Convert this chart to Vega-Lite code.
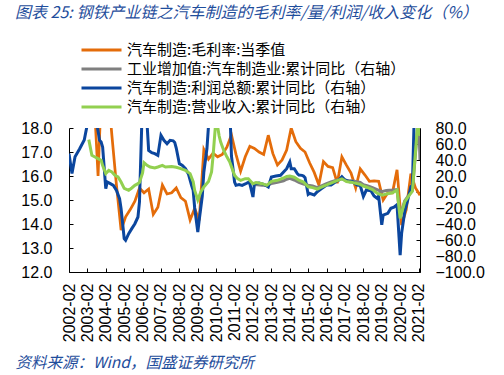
{
  "$schema": "https://vega.github.io/schema/vega-lite/v6.json",
  "width": 351,
  "height": 144,
  "autosize": {"type": "none"},
  "padding": {"left": 69, "top": 128, "right": 84, "bottom": 103},
  "background": "white",
  "title": {
    "text": "图表 25:  钢铁产业链之汽车制造的毛利率/量/利润/收入变化（%）",
    "anchor": "start",
    "frame": "group",
    "dx": -54,
    "offset": 20,
    "font": "Noto Sans CJK SC",
    "fontSize": 16,
    "fontStyle": "italic",
    "fontWeight": "normal",
    "color": "#1F4E9C"
  },
  "config": {
    "view": {"stroke": null},
    "axis": {"domainColor": "#000000", "tickColor": "#000000", "labelColor": "#000000", "grid": false, "domainWidth": 1, "tickWidth": 1},
    "axisRight": {"labelOverlap": false, "labelSeparation": -10},
    "axisLeft": {"labelOverlap": false}
  },
  "datasets": {
    "d": [
      {"date": "2002-03", "series": "汽车制造:毛利率:当季值", "value": 18.4},
      {"date": "2002-06", "series": "汽车制造:毛利率:当季值", "value": 19.5},
      {"date": "2002-09", "series": "汽车制造:毛利率:当季值", "value": 20.0},
      {"date": "2002-12", "series": "汽车制造:毛利率:当季值", "value": 20.5},
      {"date": "2003-03", "series": "汽车制造:毛利率:当季值", "value": 20.5},
      {"date": "2003-06", "series": "汽车制造:毛利率:当季值", "value": 19.8},
      {"date": "2003-09", "series": "汽车制造:毛利率:当季值", "value": 16.0},
      {"date": "2003-12", "series": "汽车制造:毛利率:当季值", "value": 21.0},
      {"date": "2004-03", "series": "汽车制造:毛利率:当季值", "value": 20.0},
      {"date": "2004-06", "series": "汽车制造:毛利率:当季值", "value": 17.7},
      {"date": "2004-09", "series": "汽车制造:毛利率:当季值", "value": 15.6},
      {"date": "2004-12", "series": "汽车制造:毛利率:当季值", "value": 13.75},
      {"date": "2005-03", "series": "汽车制造:毛利率:当季值", "value": 14.3},
      {"date": "2005-06", "series": "汽车制造:毛利率:当季值", "value": 14.6},
      {"date": "2005-09", "series": "汽车制造:毛利率:当季值", "value": 14.95},
      {"date": "2005-12", "series": "汽车制造:毛利率:当季值", "value": 15.5},
      {"date": "2006-03", "series": "汽车制造:毛利率:当季值", "value": 15.3},
      {"date": "2006-06", "series": "汽车制造:毛利率:当季值", "value": 15.46},
      {"date": "2006-09", "series": "汽车制造:毛利率:当季值", "value": 14.4},
      {"date": "2006-12", "series": "汽车制造:毛利率:当季值", "value": 14.7},
      {"date": "2007-03", "series": "汽车制造:毛利率:当季值", "value": 15.62},
      {"date": "2007-06", "series": "汽车制造:毛利率:当季值", "value": 15.25},
      {"date": "2007-09", "series": "汽车制造:毛利率:当季值", "value": 15.3},
      {"date": "2007-12", "series": "汽车制造:毛利率:当季值", "value": 15.5},
      {"date": "2008-03", "series": "汽车制造:毛利率:当季值", "value": 15.1},
      {"date": "2008-06", "series": "汽车制造:毛利率:当季值", "value": 14.95},
      {"date": "2008-09", "series": "汽车制造:毛利率:当季值", "value": 14.17},
      {"date": "2008-12", "series": "汽车制造:毛利率:当季值", "value": 14.65},
      {"date": "2009-03", "series": "汽车制造:毛利率:当季值", "value": 14.15},
      {"date": "2009-06", "series": "汽车制造:毛利率:当季值", "value": 17.1},
      {"date": "2009-09", "series": "汽车制造:毛利率:当季值", "value": 16.7},
      {"date": "2009-12", "series": "汽车制造:毛利率:当季值", "value": 16.95},
      {"date": "2010-03", "series": "汽车制造:毛利率:当季值", "value": 16.8},
      {"date": "2010-06", "series": "汽车制造:毛利率:当季值", "value": 16.9},
      {"date": "2010-09", "series": "汽车制造:毛利率:当季值", "value": 17.2},
      {"date": "2010-12", "series": "汽车制造:毛利率:当季值", "value": 17.72},
      {"date": "2011-03", "series": "汽车制造:毛利率:当季值", "value": 16.9},
      {"date": "2011-06", "series": "汽车制造:毛利率:当季值", "value": 16.2},
      {"date": "2011-09", "series": "汽车制造:毛利率:当季值", "value": 16.8},
      {"date": "2011-12", "series": "汽车制造:毛利率:当季值", "value": 17.24},
      {"date": "2012-03", "series": "汽车制造:毛利率:当季值", "value": 17.15},
      {"date": "2012-06", "series": "汽车制造:毛利率:当季值", "value": 17.0},
      {"date": "2012-09", "series": "汽车制造:毛利率:当季值", "value": 16.9},
      {"date": "2012-12", "series": "汽车制造:毛利率:当季值", "value": 17.7},
      {"date": "2013-03", "series": "汽车制造:毛利率:当季值", "value": 16.94},
      {"date": "2013-06", "series": "汽车制造:毛利率:当季值", "value": 16.46},
      {"date": "2013-09", "series": "汽车制造:毛利率:当季值", "value": 16.67},
      {"date": "2013-12", "series": "汽车制造:毛利率:当季值", "value": 17.08},
      {"date": "2014-03", "series": "汽车制造:毛利率:当季值", "value": 18.0},
      {"date": "2014-06", "series": "汽车制造:毛利率:当季值", "value": 17.43},
      {"date": "2014-09", "series": "汽车制造:毛利率:当季值", "value": 17.15},
      {"date": "2014-12", "series": "汽车制造:毛利率:当季值", "value": 17.0},
      {"date": "2015-03", "series": "汽车制造:毛利率:当季值", "value": 16.55},
      {"date": "2015-06", "series": "汽车制造:毛利率:当季值", "value": 16.15},
      {"date": "2015-09", "series": "汽车制造:毛利率:当季值", "value": 15.63},
      {"date": "2015-12", "series": "汽车制造:毛利率:当季值", "value": 16.6},
      {"date": "2016-03", "series": "汽车制造:毛利率:当季值", "value": 16.4},
      {"date": "2016-06", "series": "汽车制造:毛利率:当季值", "value": 16.35},
      {"date": "2016-09", "series": "汽车制造:毛利率:当季值", "value": 15.7},
      {"date": "2016-12", "series": "汽车制造:毛利率:当季值", "value": 16.8},
      {"date": "2017-03", "series": "汽车制造:毛利率:当季值", "value": 16.45},
      {"date": "2017-06", "series": "汽车制造:毛利率:当季值", "value": 16.12},
      {"date": "2017-09", "series": "汽车制造:毛利率:当季值", "value": 15.5},
      {"date": "2017-12", "series": "汽车制造:毛利率:当季值", "value": 16.3},
      {"date": "2018-03", "series": "汽车制造:毛利率:当季值", "value": 16.05},
      {"date": "2018-06", "series": "汽车制造:毛利率:当季值", "value": 15.78},
      {"date": "2018-09", "series": "汽车制造:毛利率:当季值", "value": 15.8},
      {"date": "2018-12", "series": "汽车制造:毛利率:当季值", "value": 15.78},
      {"date": "2019-03", "series": "汽车制造:毛利率:当季值", "value": 15.0},
      {"date": "2019-06", "series": "汽车制造:毛利率:当季值", "value": 15.3},
      {"date": "2019-09", "series": "汽车制造:毛利率:当季值", "value": 15.3},
      {"date": "2019-12", "series": "汽车制造:毛利率:当季值", "value": 16.26},
      {"date": "2020-03", "series": "汽车制造:毛利率:当季值", "value": 13.95},
      {"date": "2020-06", "series": "汽车制造:毛利率:当季值", "value": 14.6},
      {"date": "2020-09", "series": "汽车制造:毛利率:当季值", "value": 16.1},
      {"date": "2020-12", "series": "汽车制造:毛利率:当季值", "value": 15.5},
      {"date": "2021-03", "series": "汽车制造:毛利率:当季值", "value": 15.2},

      {"date": "2012-02", "series": "工业增加值:汽车制造业:累计同比（右轴）", "value": 9.5},
      {"date": "2012-05", "series": "工业增加值:汽车制造业:累计同比（右轴）", "value": 9},
      {"date": "2012-08", "series": "工业增加值:汽车制造业:累计同比（右轴）", "value": 8.5},
      {"date": "2012-11", "series": "工业增加值:汽车制造业:累计同比（右轴）", "value": 8.5},
      {"date": "2013-02", "series": "工业增加值:汽车制造业:累计同比（右轴）", "value": 10.5},
      {"date": "2013-06", "series": "工业增加值:汽车制造业:累计同比（右轴）", "value": 12},
      {"date": "2013-10", "series": "工业增加值:汽车制造业:累计同比（右轴）", "value": 14},
      {"date": "2013-12", "series": "工业增加值:汽车制造业:累计同比（右轴）", "value": 16},
      {"date": "2014-02", "series": "工业增加值:汽车制造业:累计同比（右轴）", "value": 17},
      {"date": "2014-05", "series": "工业增加值:汽车制造业:累计同比（右轴）", "value": 15},
      {"date": "2014-08", "series": "工业增加值:汽车制造业:累计同比（右轴）", "value": 12},
      {"date": "2014-11", "series": "工业增加值:汽车制造业:累计同比（右轴）", "value": 10},
      {"date": "2015-02", "series": "工业增加值:汽车制造业:累计同比（右轴）", "value": 8.5},
      {"date": "2015-05", "series": "工业增加值:汽车制造业:累计同比（右轴）", "value": 7.5},
      {"date": "2015-08", "series": "工业增加值:汽车制造业:累计同比（右轴）", "value": 5.5},
      {"date": "2015-10", "series": "工业增加值:汽车制造业:累计同比（右轴）", "value": 7},
      {"date": "2016-02", "series": "工业增加值:汽车制造业:累计同比（右轴）", "value": 10.5},
      {"date": "2016-05", "series": "工业增加值:汽车制造业:累计同比（右轴）", "value": 12.5},
      {"date": "2016-08", "series": "工业增加值:汽车制造业:累计同比（右轴）", "value": 14.5},
      {"date": "2016-12", "series": "工业增加值:汽车制造业:累计同比（右轴）", "value": 16.5},
      {"date": "2017-03", "series": "工业增加值:汽车制造业:累计同比（右轴）", "value": 14.5},
      {"date": "2017-06", "series": "工业增加值:汽车制造业:累计同比（右轴）", "value": 14},
      {"date": "2017-09", "series": "工业增加值:汽车制造业:累计同比（右轴）", "value": 13},
      {"date": "2017-12", "series": "工业增加值:汽车制造业:累计同比（右轴）", "value": 12},
      {"date": "2018-02", "series": "工业增加值:汽车制造业:累计同比（右轴）", "value": 9},
      {"date": "2018-05", "series": "工业增加值:汽车制造业:累计同比（右轴）", "value": 7.5},
      {"date": "2018-08", "series": "工业增加值:汽车制造业:累计同比（右轴）", "value": 5.5},
      {"date": "2018-11", "series": "工业增加值:汽车制造业:累计同比（右轴）", "value": 3},
      {"date": "2019-02", "series": "工业增加值:汽车制造业:累计同比（右轴）", "value": 0.5},
      {"date": "2019-05", "series": "工业增加值:汽车制造业:累计同比（右轴）", "value": 2},
      {"date": "2019-09", "series": "工业增加值:汽车制造业:累计同比（右轴）", "value": 2.5},
      {"date": "2019-12", "series": "工业增加值:汽车制造业:累计同比（右轴）", "value": 3},
      {"date": "2020-02", "series": "工业增加值:汽车制造业:累计同比（右轴）", "value": -32},
      {"date": "2020-03", "series": "工业增加值:汽车制造业:累计同比（右轴）", "value": -24},
      {"date": "2020-05", "series": "工业增加值:汽车制造业:累计同比（右轴）", "value": -11},
      {"date": "2020-08", "series": "工业增加值:汽车制造业:累计同比（右轴）", "value": -3},
      {"date": "2020-10", "series": "工业增加值:汽车制造业:累计同比（右轴）", "value": 2},
      {"date": "2021-02", "series": "工业增加值:汽车制造业:累计同比（右轴）", "value": 95},
      {"date": "2021-03", "series": "工业增加值:汽车制造业:累计同比（右轴）", "value": 40},

      {"date": "2002-02", "series": "汽车制造:利润总额:累计同比（右轴）", "value": 48},
      {"date": "2002-04", "series": "汽车制造:利润总额:累计同比（右轴）", "value": 23},
      {"date": "2002-06", "series": "汽车制造:利润总额:累计同比（右轴）", "value": 44},
      {"date": "2002-09", "series": "汽车制造:利润总额:累计同比（右轴）", "value": 54},
      {"date": "2002-12", "series": "汽车制造:利润总额:累计同比（右轴）", "value": 65},
      {"date": "2003-02", "series": "汽车制造:利润总额:累计同比（右轴）", "value": 85},
      {"date": "2003-04", "series": "汽车制造:利润总额:累计同比（右轴）", "value": 110},
      {"date": "2003-06", "series": "汽车制造:利润总额:累计同比（右轴）", "value": 100},
      {"date": "2003-08", "series": "汽车制造:利润总额:累计同比（右轴）", "value": 88},
      {"date": "2003-10", "series": "汽车制造:利润总额:累计同比（右轴）", "value": 64.6},
      {"date": "2003-11", "series": "汽车制造:利润总额:累计同比（右轴）", "value": 62.5},
      {"date": "2003-12", "series": "汽车制造:利润总额:累计同比（右轴）", "value": 56},
      {"date": "2004-02", "series": "汽车制造:利润总额:累计同比（右轴）", "value": 4.2},
      {"date": "2004-03", "series": "汽车制造:利润总额:累计同比（右轴）", "value": 12.5},
      {"date": "2004-05", "series": "汽车制造:利润总额:累计同比（右轴）", "value": 10.4},
      {"date": "2004-07", "series": "汽车制造:利润总额:累计同比（右轴）", "value": 8.3},
      {"date": "2004-09", "series": "汽车制造:利润总额:累计同比（右轴）", "value": 2},
      {"date": "2004-11", "series": "汽车制造:利润总额:累计同比（右轴）", "value": -8.3},
      {"date": "2004-12", "series": "汽车制造:利润总额:累计同比（右轴）", "value": -20.8},
      {"date": "2005-02", "series": "汽车制造:利润总额:累计同比（右轴）", "value": -58.3},
      {"date": "2005-03", "series": "汽车制造:利润总额:累计同比（右轴）", "value": -60.4},
      {"date": "2005-05", "series": "汽车制造:利润总额:累计同比（右轴）", "value": -52},
      {"date": "2005-07", "series": "汽车制造:利润总额:累计同比（右轴）", "value": -45.8},
      {"date": "2005-09", "series": "汽车制造:利润总额:累计同比（右轴）", "value": -39.6},
      {"date": "2005-11", "series": "汽车制造:利润总额:累计同比（右轴）", "value": -31.25},
      {"date": "2005-12", "series": "汽车制造:利润总额:累计同比（右轴）", "value": -12.5},
      {"date": "2006-02", "series": "汽车制造:利润总额:累计同比（右轴）", "value": 120},
      {"date": "2006-03", "series": "汽车制造:利润总额:累计同比（右轴）", "value": 110},
      {"date": "2006-05", "series": "汽车制造:利润总额:累计同比（右轴）", "value": 85},
      {"date": "2006-06", "series": "汽车制造:利润总额:累计同比（右轴）", "value": 52},
      {"date": "2006-08", "series": "汽车制造:利润总额:累计同比（右轴）", "value": 49.2},
      {"date": "2006-10", "series": "汽车制造:利润总额:累计同比（右轴）", "value": 48},
      {"date": "2006-12", "series": "汽车制造:利润总额:累计同比（右轴）", "value": 45.8},
      {"date": "2007-02", "series": "汽车制造:利润总额:累计同比（右轴）", "value": 70.8},
      {"date": "2007-04", "series": "汽车制造:利润总额:累计同比（右轴）", "value": 64.6},
      {"date": "2007-06", "series": "汽车制造:利润总额:累计同比（右轴）", "value": 60.4},
      {"date": "2007-08", "series": "汽车制造:利润总额:累计同比（右轴）", "value": 64.6},
      {"date": "2007-10", "series": "汽车制造:利润总额:累计同比（右轴）", "value": 64},
      {"date": "2007-11", "series": "汽车制造:利润总额:累计同比（右轴）", "value": 62},
      {"date": "2007-12", "series": "汽车制造:利润总额:累计同比（右轴）", "value": 55},
      {"date": "2008-02", "series": "汽车制造:利润总额:累计同比（右轴）", "value": 35.4},
      {"date": "2008-04", "series": "汽车制造:利润总额:累计同比（右轴）", "value": 33.3},
      {"date": "2008-06", "series": "汽车制造:利润总额:累计同比（右轴）", "value": 29.2},
      {"date": "2008-08", "series": "汽车制造:利润总额:累计同比（右轴）", "value": 22},
      {"date": "2008-10", "series": "汽车制造:利润总额:累计同比（右轴）", "value": 8},
      {"date": "2008-11", "series": "汽车制造:利润总额:累计同比（右轴）", "value": 2},
      {"date": "2008-12", "series": "汽车制造:利润总额:累计同比（右轴）", "value": -20},
      {"date": "2009-02", "series": "汽车制造:利润总额:累计同比（右轴）", "value": -50},
      {"date": "2009-03", "series": "汽车制造:利润总额:累计同比（右轴）", "value": -35},
      {"date": "2009-05", "series": "汽车制造:利润总额:累计同比（右轴）", "value": -5},
      {"date": "2009-06", "series": "汽车制造:利润总额:累计同比（右轴）", "value": 25},
      {"date": "2009-08", "series": "汽车制造:利润总额:累计同比（右轴）", "value": 54},
      {"date": "2009-10", "series": "汽车制造:利润总额:累计同比（右轴）", "value": 110},
      {"date": "2009-12", "series": "汽车制造:利润总额:累计同比（右轴）", "value": 140},
      {"date": "2010-02", "series": "汽车制造:利润总额:累计同比（右轴）", "value": 200},
      {"date": "2010-05", "series": "汽车制造:利润总额:累计同比（右轴）", "value": 160},
      {"date": "2010-08", "series": "汽车制造:利润总额:累计同比（右轴）", "value": 130},
      {"date": "2010-10", "series": "汽车制造:利润总额:累计同比（右轴）", "value": 110},
      {"date": "2010-11", "series": "汽车制造:利润总额:累计同比（右轴）", "value": 100},
      {"date": "2010-12", "series": "汽车制造:利润总额:累计同比（右轴）", "value": 45},
      {"date": "2011-02", "series": "汽车制造:利润总额:累计同比（右轴）", "value": 12.5},
      {"date": "2011-03", "series": "汽车制造:利润总额:累计同比（右轴）", "value": 8.3},
      {"date": "2011-05", "series": "汽车制造:利润总额:累计同比（右轴）", "value": 9.2},
      {"date": "2011-07", "series": "汽车制造:利润总额:累计同比（右轴）", "value": 8.3},
      {"date": "2011-09", "series": "汽车制造:利润总额:累计同比（右轴）", "value": 10},
      {"date": "2011-11", "series": "汽车制造:利润总额:累计同比（右轴）", "value": 12},
      {"date": "2011-12", "series": "汽车制造:利润总额:累计同比（右轴）", "value": 10.4},
      {"date": "2012-02", "series": "汽车制造:利润总额:累计同比（右轴）", "value": -6.25},
      {"date": "2012-03", "series": "汽车制造:利润总额:累计同比（右轴）", "value": 10.4},
      {"date": "2012-06", "series": "汽车制造:利润总额:累计同比（右轴）", "value": 11.25},
      {"date": "2012-09", "series": "汽车制造:利润总额:累计同比（右轴）", "value": 9.5},
      {"date": "2012-11", "series": "汽车制造:利润总额:累计同比（右轴）", "value": 7.5},
      {"date": "2012-12", "series": "汽车制造:利润总额:累计同比（右轴）", "value": 6.25},
      {"date": "2013-02", "series": "汽车制造:利润总额:累计同比（右轴）", "value": 18.75},
      {"date": "2013-05", "series": "汽车制造:利润总额:累计同比（右轴）", "value": 20},
      {"date": "2013-08", "series": "汽车制造:利润总额:累计同比（右轴）", "value": 20.8},
      {"date": "2013-10", "series": "汽车制造:利润总额:累计同比（右轴）", "value": 25},
      {"date": "2013-12", "series": "汽车制造:利润总额:累计同比（右轴）", "value": 29.2},
      {"date": "2014-02", "series": "汽车制造:利润总额:累计同比（右轴）", "value": 37.5},
      {"date": "2014-03", "series": "汽车制造:利润总额:累计同比（右轴）", "value": 29.2},
      {"date": "2014-05", "series": "汽车制造:利润总额:累计同比（右轴）", "value": 29.2},
      {"date": "2014-07", "series": "汽车制造:利润总额:累计同比（右轴）", "value": 23},
      {"date": "2014-08", "series": "汽车制造:利润总额:累计同比（右轴）", "value": 21.25},
      {"date": "2014-10", "series": "汽车制造:利润总额:累计同比（右轴）", "value": 20.8},
      {"date": "2014-11", "series": "汽车制造:利润总额:累计同比（右轴）", "value": 20},
      {"date": "2014-12", "series": "汽车制造:利润总额:累计同比（右轴）", "value": 18},
      {"date": "2015-02", "series": "汽车制造:利润总额:累计同比（右轴）", "value": -3},
      {"date": "2015-03", "series": "汽车制造:利润总额:累计同比（右轴）", "value": -1.7},
      {"date": "2015-06", "series": "汽车制造:利润总额:累计同比（右轴）", "value": -3.75},
      {"date": "2015-08", "series": "汽车制造:利润总额:累计同比（右轴）", "value": 0.4},
      {"date": "2015-11", "series": "汽车制造:利润总额:累计同比（右轴）", "value": 4.6},
      {"date": "2015-12", "series": "汽车制造:利润总额:累计同比（右轴）", "value": 6},
      {"date": "2016-02", "series": "汽车制造:利润总额:累计同比（右轴）", "value": 8.75},
      {"date": "2016-05", "series": "汽车制造:利润总额:累计同比（右轴）", "value": 8.75},
      {"date": "2016-08", "series": "汽车制造:利润总额:累计同比（右轴）", "value": 12.9},
      {"date": "2016-10", "series": "汽车制造:利润总额:累计同比（右轴）", "value": 15},
      {"date": "2016-12", "series": "汽车制造:利润总额:累计同比（右轴）", "value": 19.2},
      {"date": "2017-02", "series": "汽车制造:利润总额:累计同比（右轴）", "value": 15},
      {"date": "2017-05", "series": "汽车制造:利润总额:累计同比（右轴）", "value": 12.9},
      {"date": "2017-07", "series": "汽车制造:利润总额:累计同比（右轴）", "value": 12.9},
      {"date": "2017-10", "series": "汽车制造:利润总额:累计同比（右轴）", "value": 8.75},
      {"date": "2017-12", "series": "汽车制造:利润总额:累计同比（右轴）", "value": 8},
      {"date": "2018-02", "series": "汽车制造:利润总额:累计同比（右轴）", "value": -5.5},
      {"date": "2018-04", "series": "汽车制造:利润总额:累计同比（右轴）", "value": 2.5},
      {"date": "2018-07", "series": "汽车制造:利润总额:累计同比（右轴）", "value": 1.5},
      {"date": "2018-09", "series": "汽车制造:利润总额:累计同比（右轴）", "value": -5},
      {"date": "2018-11", "series": "汽车制造:利润总额:累计同比（右轴）", "value": -7.9},
      {"date": "2018-12", "series": "汽车制造:利润总额:累计同比（右轴）", "value": -5},
      {"date": "2019-02", "series": "汽车制造:利润总额:累计同比（右轴）", "value": -41},
      {"date": "2019-03", "series": "汽车制造:利润总额:累计同比（右轴）", "value": -28.75},
      {"date": "2019-06", "series": "汽车制造:利润总额:累计同比（右轴）", "value": -26.7},
      {"date": "2019-08", "series": "汽车制造:利润总额:累计同比（右轴）", "value": -20.4},
      {"date": "2019-10", "series": "汽车制造:利润总额:累计同比（右轴）", "value": -19},
      {"date": "2019-12", "series": "汽车制造:利润总额:累计同比（右轴）", "value": -16},
      {"date": "2020-02", "series": "汽车制造:利润总额:累计同比（右轴）", "value": -79},
      {"date": "2020-03", "series": "汽车制造:利润总额:累计同比（右轴）", "value": -51.7},
      {"date": "2020-05", "series": "汽车制造:利润总额:累计同比（右轴）", "value": -24.6},
      {"date": "2020-07", "series": "汽车制造:利润总额:累计同比（右轴）", "value": -10},
      {"date": "2020-09", "series": "汽车制造:利润总额:累计同比（右轴）", "value": 6.7},
      {"date": "2020-10", "series": "汽车制造:利润总额:累计同比（右轴）", "value": 8},
      {"date": "2021-02", "series": "汽车制造:利润总额:累计同比（右轴）", "value": 300},

      {"date": "2003-03", "series": "汽车制造:营业收入:累计同比（右轴）", "value": 65.5},
      {"date": "2003-05", "series": "汽车制造:营业收入:累计同比（右轴）", "value": 45.8},
      {"date": "2003-07", "series": "汽车制造:营业收入:累计同比（右轴）", "value": 43.75},
      {"date": "2003-09", "series": "汽车制造:营业收入:累计同比（右轴）", "value": 41.7},
      {"date": "2003-11", "series": "汽车制造:营业收入:累计同比（右轴）", "value": 39.6},
      {"date": "2003-12", "series": "汽车制造:营业收入:累计同比（右轴）", "value": 33},
      {"date": "2004-02", "series": "汽车制造:营业收入:累计同比（右轴）", "value": 23},
      {"date": "2004-04", "series": "汽车制造:营业收入:累计同比（右轴）", "value": 27},
      {"date": "2004-06", "series": "汽车制造:营业收入:累计同比（右轴）", "value": 25},
      {"date": "2004-08", "series": "汽车制造:营业收入:累计同比（右轴）", "value": 20.8},
      {"date": "2004-10", "series": "汽车制造:营业收入:累计同比（右轴）", "value": 18.75},
      {"date": "2004-12", "series": "汽车制造:营业收入:累计同比（右轴）", "value": 12.5},
      {"date": "2005-02", "series": "汽车制造:营业收入:累计同比（右轴）", "value": 4.5},
      {"date": "2005-05", "series": "汽车制造:营业收入:累计同比（右轴）", "value": 2.1},
      {"date": "2005-07", "series": "汽车制造:营业收入:累计同比（右轴）", "value": 5},
      {"date": "2005-09", "series": "汽车制造:营业收入:累计同比（右轴）", "value": 8.3},
      {"date": "2005-11", "series": "汽车制造:营业收入:累计同比（右轴）", "value": 10.4},
      {"date": "2005-12", "series": "汽车制造:营业收入:累计同比（右轴）", "value": 12},
      {"date": "2006-02", "series": "汽车制造:营业收入:累计同比（右轴）", "value": 24},
      {"date": "2006-03", "series": "汽车制造:营业收入:累计同比（右轴）", "value": 36.7},
      {"date": "2006-05", "series": "汽车制造:营业收入:累计同比（右轴）", "value": 33.3},
      {"date": "2006-07", "series": "汽车制造:营业收入:累计同比（右轴）", "value": 31.25},
      {"date": "2006-10", "series": "汽车制造:营业收入:累计同比（右轴）", "value": 30},
      {"date": "2006-12", "series": "汽车制造:营业收入:累计同比（右轴）", "value": 31.25},
      {"date": "2007-03", "series": "汽车制造:营业收入:累计同比（右轴）", "value": 33.3},
      {"date": "2007-05", "series": "汽车制造:营业收入:累计同比（右轴）", "value": 31.25},
      {"date": "2007-09", "series": "汽车制造:营业收入:累计同比（右轴）", "value": 32},
      {"date": "2007-12", "series": "汽车制造:营业收入:累计同比（右轴）", "value": 31},
      {"date": "2008-03", "series": "汽车制造:营业收入:累计同比（右轴）", "value": 29.2},
      {"date": "2008-06", "series": "汽车制造:营业收入:累计同比（右轴）", "value": 27},
      {"date": "2008-09", "series": "汽车制造:营业收入:累计同比（右轴）", "value": 23},
      {"date": "2008-11", "series": "汽车制造:营业收入:累计同比（右轴）", "value": 13},
      {"date": "2008-12", "series": "汽车制造:营业收入:累计同比（右轴）", "value": 2},
      {"date": "2009-02", "series": "汽车制造:营业收入:累计同比（右轴）", "value": -10},
      {"date": "2009-04", "series": "汽车制造:营业收入:累计同比（右轴）", "value": 0},
      {"date": "2009-06", "series": "汽车制造:营业收入:累计同比（右轴）", "value": 6.25},
      {"date": "2009-09", "series": "汽车制造:营业收入:累计同比（右轴）", "value": 13},
      {"date": "2009-11", "series": "汽车制造:营业收入:累计同比（右轴）", "value": 25},
      {"date": "2009-12", "series": "汽车制造:营业收入:累计同比（右轴）", "value": 45},
      {"date": "2010-02", "series": "汽车制造:营业收入:累计同比（右轴）", "value": 95},
      {"date": "2010-03", "series": "汽车制造:营业收入:累计同比（右轴）", "value": 82},
      {"date": "2010-04", "series": "汽车制造:营业收入:累计同比（右轴）", "value": 70},
      {"date": "2010-05", "series": "汽车制造:营业收入:累计同比（右轴）", "value": 62.5},
      {"date": "2010-07", "series": "汽车制造:营业收入:累计同比（右轴）", "value": 52},
      {"date": "2010-09", "series": "汽车制造:营业收入:累计同比（右轴）", "value": 44},
      {"date": "2010-11", "series": "汽车制造:营业收入:累计同比（右轴）", "value": 37},
      {"date": "2011-02", "series": "汽车制造:营业收入:累计同比（右轴）", "value": 20.8},
      {"date": "2011-04", "series": "汽车制造:营业收入:累计同比（右轴）", "value": 16.7},
      {"date": "2011-06", "series": "汽车制造:营业收入:累计同比（右轴）", "value": 14.6},
      {"date": "2011-09", "series": "汽车制造:营业收入:累计同比（右轴）", "value": 16.7},
      {"date": "2011-11", "series": "汽车制造:营业收入:累计同比（右轴）", "value": 16.7},
      {"date": "2012-02", "series": "汽车制造:营业收入:累计同比（右轴）", "value": 10.4},
      {"date": "2012-04", "series": "汽车制造:营业收入:累计同比（右轴）", "value": 11.7},
      {"date": "2012-08", "series": "汽车制造:营业收入:累计同比（右轴）", "value": 10.4},
      {"date": "2012-11", "series": "汽车制造:营业收入:累计同比（右轴）", "value": 8.3},
      {"date": "2013-02", "series": "汽车制造:营业收入:累计同比（右轴）", "value": 13.3},
      {"date": "2013-06", "series": "汽车制造:营业收入:累计同比（右轴）", "value": 14.6},
      {"date": "2013-10", "series": "汽车制造:营业收入:累计同比（右轴）", "value": 17.5},
      {"date": "2013-12", "series": "汽车制造:营业收入:累计同比（右轴）", "value": 19.5},
      {"date": "2014-02", "series": "汽车制造:营业收入:累计同比（右轴）", "value": 20},
      {"date": "2014-05", "series": "汽车制造:营业收入:累计同比（右轴）", "value": 18.5},
      {"date": "2014-08", "series": "汽车制造:营业收入:累计同比（右轴）", "value": 14.8},
      {"date": "2014-11", "series": "汽车制造:营业收入:累计同比（右轴）", "value": 12.5},
      {"date": "2015-02", "series": "汽车制造:营业收入:累计同比（右轴）", "value": 6.5},
      {"date": "2015-05", "series": "汽车制造:营业收入:累计同比（右轴）", "value": 5.5},
      {"date": "2015-08", "series": "汽车制造:营业收入:累计同比（右轴）", "value": 3.5},
      {"date": "2015-10", "series": "汽车制造:营业收入:累计同比（右轴）", "value": 5.5},
      {"date": "2016-02", "series": "汽车制造:营业收入:累计同比（右轴）", "value": 9},
      {"date": "2016-05", "series": "汽车制造:营业收入:累计同比（右轴）", "value": 11},
      {"date": "2016-08", "series": "汽车制造:营业收入:累计同比（右轴）", "value": 13.5},
      {"date": "2016-12", "series": "汽车制造:营业收入:累计同比（右轴）", "value": 16.5},
      {"date": "2017-03", "series": "汽车制造:营业收入:累计同比（右轴）", "value": 13},
      {"date": "2017-06", "series": "汽车制造:营业收入:累计同比（右轴）", "value": 12.3},
      {"date": "2017-09", "series": "汽车制造:营业收入:累计同比（右轴）", "value": 11},
      {"date": "2017-12", "series": "汽车制造:营业收入:累计同比（右轴）", "value": 9.5},
      {"date": "2018-02", "series": "汽车制造:营业收入:累计同比（右轴）", "value": 7.5},
      {"date": "2018-05", "series": "汽车制造:营业收入:累计同比（右轴）", "value": 5.5},
      {"date": "2018-08", "series": "汽车制造:营业收入:累计同比（右轴）", "value": 3},
      {"date": "2018-11", "series": "汽车制造:营业收入:累计同比（右轴）", "value": -1.5},
      {"date": "2019-02", "series": "汽车制造:营业收入:累计同比（右轴）", "value": -4},
      {"date": "2019-05", "series": "汽车制造:营业收入:累计同比（右轴）", "value": -2.5},
      {"date": "2019-09", "series": "汽车制造:营业收入:累计同比（右轴）", "value": -1},
      {"date": "2019-12", "series": "汽车制造:营业收入:累计同比（右轴）", "value": 2.5},
      {"date": "2020-02", "series": "汽车制造:营业收入:累计同比（右轴）", "value": -33},
      {"date": "2020-03", "series": "汽车制造:营业收入:累计同比（右轴）", "value": -26},
      {"date": "2020-05", "series": "汽车制造:营业收入:累计同比（右轴）", "value": -12.5},
      {"date": "2020-08", "series": "汽车制造:营业收入:累计同比（右轴）", "value": -4},
      {"date": "2020-10", "series": "汽车制造:营业收入:累计同比（右轴）", "value": 1},
      {"date": "2021-02", "series": "汽车制造:营业收入:累计同比（右轴）", "value": 100},
      {"date": "2021-03", "series": "汽车制造:营业收入:累计同比（右轴）", "value": 70}
    ]
  },
  "data": {"name": "d"},
  "encoding": {
    "x": {
      "field": "date",
      "type": "temporal",
      "scale": {"type": "utc", "domain": [{"year": 2002, "month": 2, "date": 1, "utc": true}, {"year": 2021, "month": 3, "date": 1, "utc": true}]},
      "axis": {
        "values": [
          {"year": 2002, "month": 2, "date": 1, "utc": true}, {"year": 2003, "month": 2, "date": 1, "utc": true},
          {"year": 2004, "month": 2, "date": 1, "utc": true}, {"year": 2005, "month": 2, "date": 1, "utc": true},
          {"year": 2006, "month": 2, "date": 1, "utc": true}, {"year": 2007, "month": 2, "date": 1, "utc": true},
          {"year": 2008, "month": 2, "date": 1, "utc": true}, {"year": 2009, "month": 2, "date": 1, "utc": true},
          {"year": 2010, "month": 2, "date": 1, "utc": true}, {"year": 2011, "month": 2, "date": 1, "utc": true},
          {"year": 2012, "month": 2, "date": 1, "utc": true}, {"year": 2013, "month": 2, "date": 1, "utc": true},
          {"year": 2014, "month": 2, "date": 1, "utc": true}, {"year": 2015, "month": 2, "date": 1, "utc": true},
          {"year": 2016, "month": 2, "date": 1, "utc": true}, {"year": 2017, "month": 2, "date": 1, "utc": true},
          {"year": 2018, "month": 2, "date": 1, "utc": true}, {"year": 2019, "month": 2, "date": 1, "utc": true},
          {"year": 2020, "month": 2, "date": 1, "utc": true}, {"year": 2021, "month": 2, "date": 1, "utc": true}
        ],
        "format": "%Y-%m",
        "labelAngle": -90,
        "labelFont": "Liberation Sans",
        "labelFontSize": 16,
        "labelPadding": 15,
        "labelOverlap": false,
        "labelFlush": false,
        "labelBound": false,
        "tickSize": -4,
        "title": "资料来源：Wind，国盛证券研究所",
        "titleFont": "Noto Sans CJK SC",
        "titleFontSize": 15.5,
        "titleFontStyle": "italic",
        "titleFontWeight": "normal",
        "titleColor": "#1F4E9C",
        "titleAnchor": "start",
        "titleAlign": "left",
        "titleBaseline": "middle",
        "titleX": -54,
        "titleY": 90
      }
    }
  },
  "layer": [
    {
      "transform": [{"filter": "datum.series === '汽车制造:毛利率:当季值'"}],
      "mark": {"type": "line", "clip": true, "strokeWidth": 2.75},
      "encoding": {
        "y": {
          "field": "value", "type": "quantitative",
          "scale": {"domain": [12, 18], "nice": false, "zero": false},
          "axis": {"orient": "left", "values": [12, 13, 14, 15, 16, 17, 18], "format": ".1f", "title": null,
                   "labelFont": "Liberation Sans", "labelFontSize": 16, "tickSize": -4, "labelPadding": 21,
                   "labelOverlap": false, "labelBound": false, "labelFlush": false}
        },
        "color": {
          "field": "series", "type": "nominal",
          "scale": {
            "domain": ["汽车制造:毛利率:当季值", "工业增加值:汽车制造业:累计同比（右轴）", "汽车制造:利润总额:累计同比（右轴）", "汽车制造:营业收入:累计同比（右轴）"],
            "range": ["#E46C0A", "#7F7F7F", "#0B469E", "#92D050"]
          },
          "legend": {
            "orient": "none", "legendX": 11, "legendY": -87.5, "title": null, "padding": 0,
            "symbolType": "stroke", "symbolSize": 1600, "symbolStrokeWidth": 3,
            "labelFont": "Noto Sans CJK SC", "labelFontSize": 15, "labelColor": "#000000",
            "labelLimit": 400, "labelOffset": 4, "clipHeight": 19, "rowPadding": 0
          }
        }
      }
    },
    {
      "encoding": {
        "y": {"field": "value", "type": "quantitative",
              "scale": {"domain": [-100, 80], "nice": false, "zero": false},
              "axis": {"orient": "right", "values": [-100, -80, -60, -40, -20, 0, 20, 40, 60, 80], "format": ".1f", "title": null,
                       "labelFont": "Liberation Sans", "labelFontSize": 16, "tickSize": -4, "labelPadding": 19,
                       "labelOverlap": false, "labelSeparation": -10, "labelBound": false, "labelFlush": false}},
        "color": {"field": "series", "type": "nominal"}
      },
      "layer": [
        {
          "transform": [{"filter": "datum.series === '工业增加值:汽车制造业:累计同比（右轴）'"}],
          "mark": {"type": "line", "clip": true, "strokeWidth": 3}
        },
        {
          "transform": [{"filter": "datum.series === '汽车制造:利润总额:累计同比（右轴）'"}],
          "mark": {"type": "line", "clip": true, "strokeWidth": 3}
        },
        {
          "transform": [{"filter": "datum.series === '汽车制造:营业收入:累计同比（右轴）'"}],
          "mark": {"type": "line", "clip": true, "strokeWidth": 3}
        }
      ]
    }
  ],
  "resolve": {"scale": {"y": "independent"}}
}
